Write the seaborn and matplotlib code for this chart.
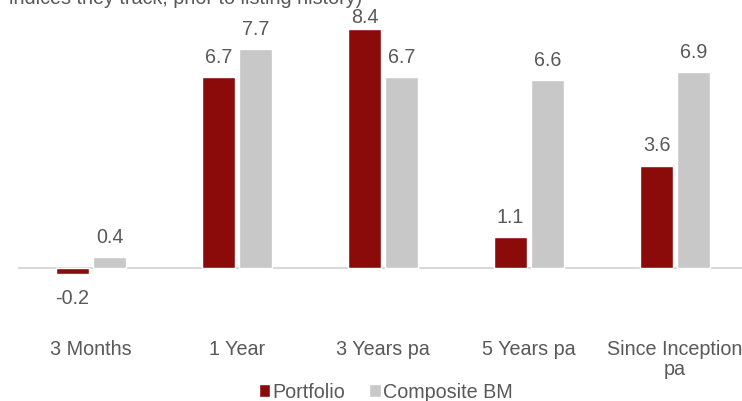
import matplotlib
matplotlib.use("Agg")
import matplotlib.pyplot as plt
import seaborn as sns
import pandas as pd

categories = ["3 Months", "1 Year", "3 Years pa", "5 Years pa", "Since Inception\npa"]
portfolio = [-0.2, 6.7, 8.4, 1.1, 3.6]
composite_bm = [0.4, 7.7, 6.7, 6.6, 6.9]
series_names = ["Portfolio", "Composite BM"]
colors = ["#8B0B0B", "#C8C8C8"]

df = pd.DataFrame({
    "cat": categories * 2,
    "val": portfolio + composite_bm,
    "series": [series_names[0]] * len(categories) + [series_names[1]] * len(categories),
})

sns.set_theme(style="white")
plt.rcParams["font.family"] = ["Liberation Sans", "DejaVu Sans"]

FS = 14.2
TXT = "#595959"

fig = plt.figure(figsize=(7.42, 4.02), dpi=100)
ax = fig.add_axes([18 / 742, (402 - 297.45) / 402, 730 / 742, 284.5 / 402])

sns.barplot(data=df, x="cat", y="val", hue="series", palette=colors,
            width=0.507, gap=0.108, ax=ax, legend=True, saturation=1)

ax.set_ylim(-1, 9)
ax.set_xlim(-0.5, len(categories) - 0.5)
ax.axhline(0, color="#D9D9D9", lw=1.5, zorder=0)
for s in ax.spines.values():
    s.set_visible(False)
ax.set_yticks([])
ax.set_xlabel("")
ax.set_ylabel("")
ax.tick_params(axis="x", length=0, pad=30.5, labelsize=FS, labelcolor=TXT)
for lbl in ax.get_xticklabels():
    lbl.set_linespacing(1.1)

# Labels are kept inside the plot area (as the source chart does)
label_cap = 8.1
for cont in ax.containers:
    for bar in cont:
        h = bar.get_height()
        x = bar.get_x() + bar.get_width() / 2
        if h >= 0:
            ax.annotate(f"{h:.1f}", (x, min(h, label_cap)), xytext=(0, 8),
                        textcoords="offset points",
                        ha="center", va="bottom", fontsize=FS, color=TXT)
        else:
            ax.annotate(f"{h:.1f}", (x, h), xytext=(0, -10), textcoords="offset points",
                        ha="center", va="top", fontsize=FS, color=TXT)

handles, labels = ax.get_legend_handles_labels()
ax.get_legend().remove()
fig.legend(handles, labels, loc="center", bbox_to_anchor=(385.5 / 742, 9 / 402),
           ncol=2, frameon=False, fontsize=FS, handlelength=0.6, handleheight=0.6,
           handletextpad=0.1, columnspacing=1.2, labelcolor=TXT, borderpad=0)

fig.text(9 / 742, 1.0 - 4.5 / 402, "indices they track, prior to listing history)",
         ha="left", va="baseline", fontsize=FS, color=TXT)

fig.savefig("out.png", dpi=100)
